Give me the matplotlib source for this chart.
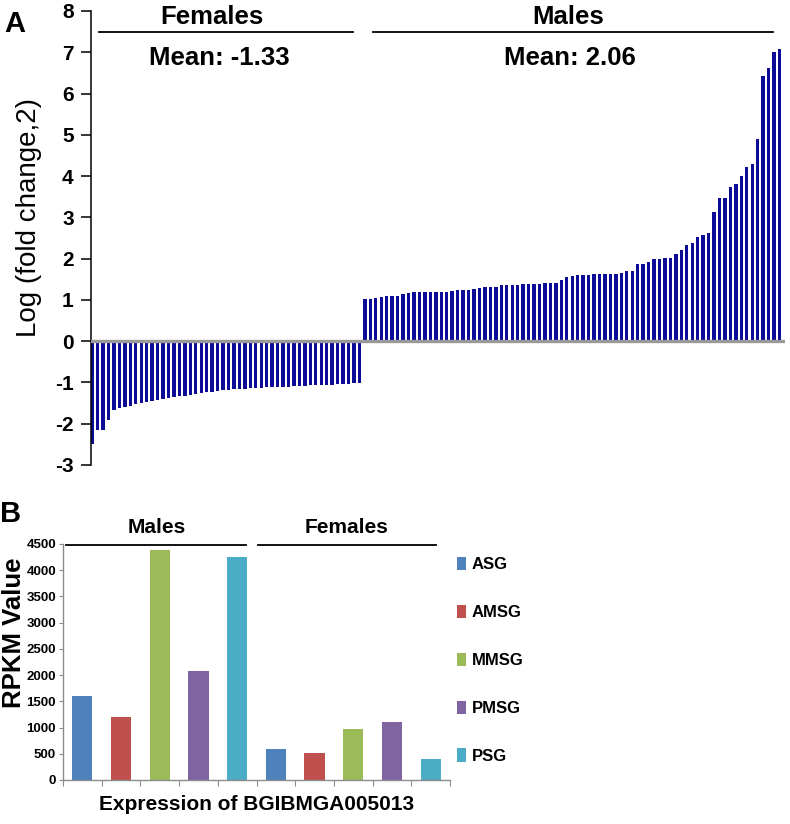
import matplotlib
matplotlib.use('Agg')
import matplotlib.pyplot as plt
import numpy as np

plt.rcParams['font.family'] = ['Liberation Sans', 'DejaVu Sans']
plt.rcParams['axes.unicode_minus'] = False

# panel A: log2 fold change per gene, sorted
female_logfc = [-2.48, -2.16, -2.15, -1.90, -1.66, -1.62, -1.60, -1.57, -1.53, -1.50,
                -1.47, -1.44, -1.42, -1.40, -1.38, -1.36, -1.34, -1.32, -1.30, -1.28,
                -1.26, -1.24, -1.22, -1.20, -1.19, -1.18, -1.17, -1.16, -1.15, -1.14,
                -1.14, -1.13, -1.12, -1.12, -1.11, -1.10, -1.10, -1.09, -1.08, -1.08,
                -1.07, -1.06, -1.06, -1.05, -1.05, -1.04, -1.03, -1.03, -1.02, -1.01]
male_logfc = [1.02, 1.03, 1.04, 1.08, 1.09, 1.09, 1.09, 1.15, 1.17, 1.18,
              1.19, 1.19, 1.19, 1.19, 1.20, 1.20, 1.22, 1.23, 1.24, 1.25,
              1.27, 1.28, 1.31, 1.32, 1.32, 1.35, 1.35, 1.35, 1.37, 1.38,
              1.38, 1.39, 1.39, 1.41, 1.42, 1.42, 1.48, 1.56, 1.57, 1.61,
              1.61, 1.61, 1.62, 1.63, 1.63, 1.63, 1.63, 1.65, 1.69, 1.69,
              1.87, 1.88, 1.92, 1.99, 2.00, 2.01, 2.02, 2.11, 2.22, 2.32,
              2.39, 2.53, 2.58, 2.61, 3.13, 3.47, 3.48, 3.74, 3.82, 4.00,
              4.22, 4.30, 4.89, 6.42, 6.62, 7.00, 7.09]
mean_labels = ['Mean: -1.33', 'Mean: 2.06']

# panel B: RPKM per tissue
tissues = ['ASG', 'AMSG', 'MMSG', 'PMSG', 'PSG']
male_rpkm = [1610, 1200, 4380, 2080, 4260]
female_rpkm = [600, 510, 970, 1100, 395]
tissue_colors = ['#4F81BD', '#C0504D', '#9BBB59', '#8064A2', '#4BACC6']

fig = plt.figure(figsize=(7.9, 8.24), dpi=100)

# ---- panel A
axA = fig.add_axes([91/790, 1-465/824, 694/790, 454/824])
vals = female_logfc + male_logfc
x = np.arange(len(vals))
axA.bar(x, vals, width=0.62, color='#0c0c96', edgecolor='none', zorder=2)
axA.axhline(0, color='#999999', lw=2.4, zorder=3)
axA.set_xlim(-0.2, 127.0)
axA.set_ylim(-3, 8)
axA.set_yticks(range(-3, 9))
for s in ['top', 'right', 'bottom']:
    axA.spines[s].set_visible(False)
axA.spines['left'].set_linewidth(1.1)
axA.set_xticks([])
axA.tick_params(axis='y', direction='out', length=7, width=1.1, pad=5.5, labelsize=15)
for lbl in axA.get_yticklabels():
    lbl.set_fontweight('bold')
axA.set_ylabel('Log (fold change,2)', fontsize=20, fontweight='medium')
axA.yaxis.set_label_coords(-0.071, 0.546)

# group headers, lines and means
axA.plot([1.3, 47.8], [7.48, 7.48], color='black', lw=1.3, clip_on=False)
axA.plot([51.5, 124.8], [7.48, 7.48], color='black', lw=1.3, clip_on=False)
axA.text(22.0, 7.85, 'Females', ha='center', va='center', fontsize=18.5, fontweight='bold')
axA.text(87.2, 7.85, 'Males', ha='center', va='center', fontsize=18.5, fontweight='bold')
axA.text(23.3, 6.85, mean_labels[0], ha='center', va='center', fontsize=18.5, fontweight='bold')
axA.text(87.6, 6.85, mean_labels[1], ha='center', va='center', fontsize=18.5, fontweight='bold')
fig.text(15/790, 1-24/824, 'A', ha='center', va='center', fontsize=21, fontweight='bold')

# ---- panel B
axB = fig.add_axes([63/790, 1-780/824, 387/790, 236/824])
xm = np.arange(len(tissues))
xf = xm + len(tissues)
bars = axB.bar(xm, male_rpkm, width=0.52, color=tissue_colors)
axB.bar(xf, female_rpkm, width=0.52, color=tissue_colors)
axB.set_xlim(-0.5, 9.5)
axB.set_ylim(0, 4500)
axB.set_yticks(range(0, 4501, 500))
axB.set_xticks(np.arange(-0.5, 10, 1.0))
axB.set_xticklabels([])
for s in ['top', 'right']:
    axB.spines[s].set_visible(False)
for s in ['left', 'bottom']:
    axB.spines[s].set_color('#8c8c8c')
    axB.spines[s].set_linewidth(1.0)
axB.tick_params(axis='y', direction='out', length=3, color='#8c8c8c', pad=2, labelsize=9.5)
axB.tick_params(axis='x', direction='out', length=4, color='#8c8c8c')
for lbl in axB.get_yticklabels():
    lbl.set_fontweight('bold')
axB.set_ylabel('RPKM Value', fontsize=18.5, fontweight='bold')
axB.yaxis.set_label_coords(-0.096, 0.623)
axB.set_xlabel('Expression of BGIBMGA005013', fontsize=15, fontweight='bold', labelpad=3)

tr = axB.get_xaxis_transform()
axB.plot([-0.42, 4.23], [0.996, 0.996], color='black', lw=1.3, transform=tr, clip_on=False)
axB.plot([4.54, 9.14], [0.996, 0.996], color='black', lw=1.3, transform=tr, clip_on=False)
axB.text(1.93, 1.072, 'Males', transform=tr, ha='center', va='center',
         fontsize=15, fontweight='bold')
axB.text(6.84, 1.072, 'Females', transform=tr, ha='center', va='center',
         fontsize=15, fontweight='bold')
fig.text(11/790, 1-514/824, 'B', ha='center', va='center', fontsize=21, fontweight='bold')

fig.legend(bars.patches, tissues, loc='upper left', bbox_to_anchor=(457/790, 1-557/824),
           frameon=False, handlelength=0.54, handleheight=0.84, handletextpad=0.35,
           labelspacing=1.95, borderaxespad=0, borderpad=0,
           prop={'weight': 'bold', 'size': 12})

fig.savefig('out.png', dpi=100)
